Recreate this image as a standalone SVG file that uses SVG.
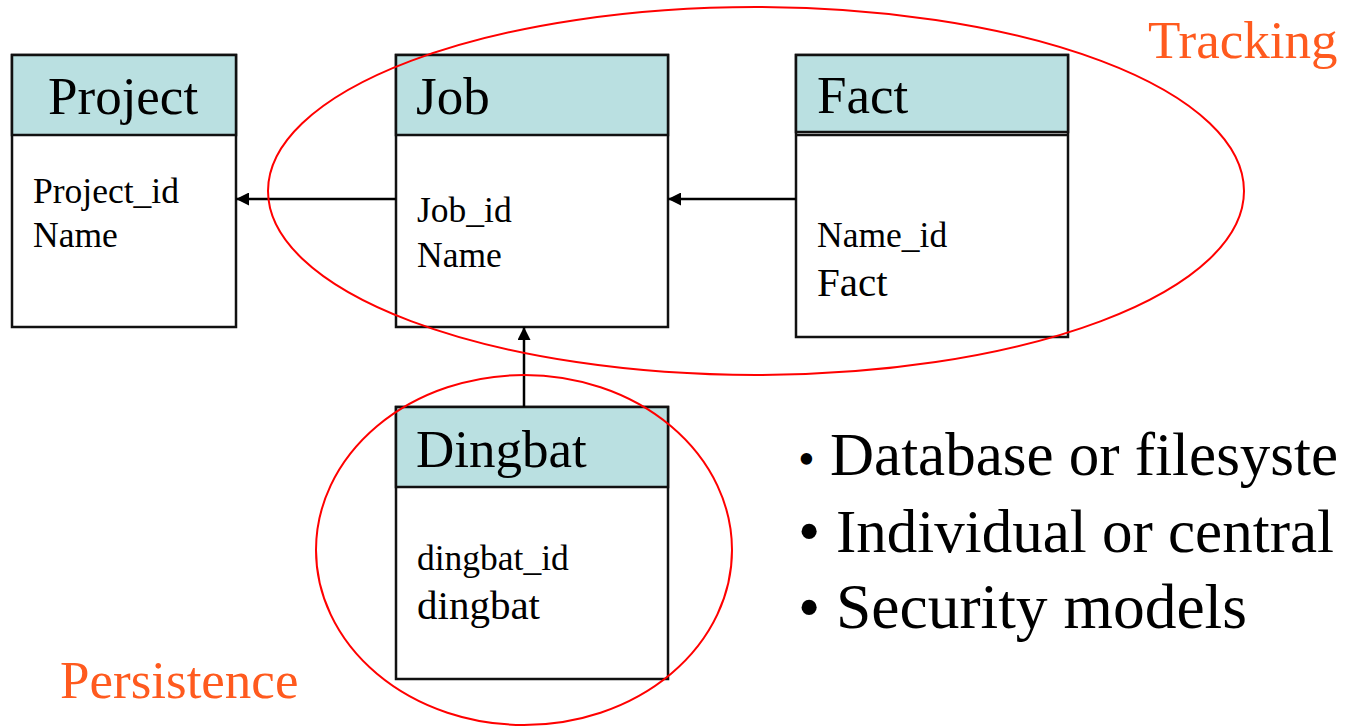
<svg xmlns="http://www.w3.org/2000/svg" width="1345" height="726" viewBox="0 0 1345 726">
  <style>
    .box { fill: #ffffff; stroke: #111111; stroke-width: 2.5; }
    .head { fill: #bae0e1; stroke: #111111; stroke-width: 2.5; }
    .title { font-family: "Liberation Serif", "Times New Roman", serif; font-size: 53px; fill: #000000; }
    .field { font-family: "Liberation Serif", "Times New Roman", serif; font-size: 35.5px; fill: #000000; }
    .big { font-size: 41px; }
    .note { font-family: "Liberation Serif", "Times New Roman", serif; font-size: 53px; fill: #ff5a1e; }
    .bullet { font-family: "Liberation Serif", "Times New Roman", serif; font-size: 63.5px; fill: #000000; }
    .tight { font-size: 61px; }
    .ring { fill: none; stroke: #ff0000; stroke-width: 2; }
    .link { fill: none; stroke: #000000; stroke-width: 2.5; marker-end: url(#arrow); }
  </style>
  <defs>
    <marker id="arrow" viewBox="0 0 10 10" refX="10" refY="5" markerWidth="16" markerHeight="13" markerUnits="userSpaceOnUse" orient="auto">
      <path d="M0,0 L10,5 L0,10 z" fill="#000000"/>
    </marker>
  </defs>

  <rect width="1345" height="726" fill="#ffffff"/>

  <!-- entity tables -->
  <g id="project">
    <rect class="box" x="12" y="55" width="224" height="272"/>
    <rect class="head" x="12" y="55" width="224" height="80"/>
    <text class="title" x="48" y="114">Project</text>
    <text class="field" x="33" y="203">Project_id</text>
    <text class="field" x="33" y="247">Name</text>
  </g>

  <g id="job">
    <rect class="box" x="396" y="55" width="272" height="272"/>
    <rect class="head" x="396" y="55" width="272" height="80"/>
    <text class="title" x="416" y="114">Job</text>
    <text class="field" x="417" y="222">Job_id</text>
    <text class="field" x="417" y="267">Name</text>
  </g>

  <g id="fact">
    <rect class="box" x="796" y="55" width="272" height="282"/>
    <rect class="head" x="796" y="55" width="272" height="77"/>
    <line x1="796" y1="135" x2="1068" y2="135" stroke="#111111" stroke-width="2.5"/>
    <text class="title" x="817" y="113">Fact</text>
    <text class="field" x="817" y="247">Name_id</text>
    <text class="field big" x="817" y="296">Fact</text>
  </g>

  <g id="dingbat">
    <rect class="box" x="396" y="407" width="272" height="272"/>
    <rect class="head" x="396" y="407" width="272" height="80"/>
    <text class="title" x="416" y="467">Dingbat</text>
    <text class="field" x="417" y="570">dingbat_id</text>
    <text class="field big" x="417" y="619">dingbat</text>
  </g>

  <!-- foreign-key references -->
  <g id="connectors">
    <line class="link" x1="396" y1="199" x2="236" y2="199"/>
    <line class="link" x1="796" y1="199" x2="668" y2="199"/>
    <line class="link" x1="524" y1="407" x2="524" y2="327"/>
  </g>

  <!-- groupings -->
  <g id="tracking">
    <ellipse class="ring" cx="756" cy="191" rx="488" ry="184"/>
    <text class="note" x="1148" y="58">Tracking</text>
  </g>
  <g id="persistence">
    <ellipse class="ring" cx="524" cy="550" rx="208" ry="175"/>
    <text class="note" x="60" y="698">Persistence</text>
  </g>

  <!-- bullet list -->
  <g id="notes">
    <text class="bullet" x="798" y="475" style="font-size:48px">•</text>
    <text class="bullet tight" x="830" y="475">Database or filesyste</text>
    <text class="bullet" x="798" y="552">•</text>
    <text class="bullet tight" x="836" y="552">Individual or central</text>
    <text class="bullet" x="798" y="628">•</text>
    <text class="bullet" x="836" y="628">Security models</text>
  </g>
</svg>
